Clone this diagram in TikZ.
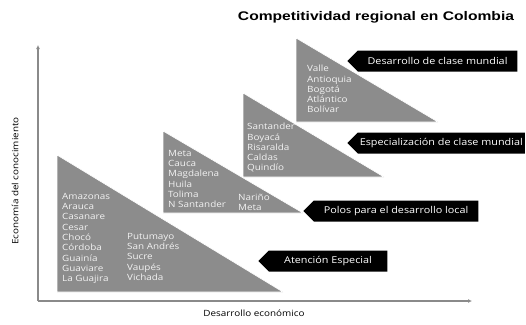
\documentclass[tikz,border=0pt]{standalone}
\usepackage{fontspec}
\setmainfont{Open Sans}[FakeStretch=1.15]
\newfontfamily\titlefont{Liberation Sans}[FakeStretch=1.25]
\usetikzlibrary{shapes.symbols,arrows.meta}
\definecolor{trigray}{HTML}{8C8C8C}
\definecolor{axisgray}{HTML}{8A8A8A}
\definecolor{regtext}{HTML}{F2F2F2}

\tikzset{
  tri/.style={fill=trigray, draw=white, line width=0.6pt},
  region/.style={text=regtext, align=left, anchor=north west, inner sep=0pt,
    font=\fontsize{8.6}{10.3}\selectfont},
  tag/.style={shape=signal, signal to=west, fill=black, text=white, anchor=west,
    minimum height=21pt, inner sep=2pt, font=\fontsize{9.4}{11}\selectfont},
  axis/.style={draw=axisgray, line width=1.5pt}
}

\begin{document}
\begin{tikzpicture}[x=1pt,y=-1pt]
    \useasboundingbox (0,0) rectangle (526,324);
    % title
    \node[font=\titlefont\bfseries\fontsize{12.5}{14}\selectfont] (title) at (376,17) {Competitividad regional en Colombia};
    % axes
    \coordinate (origin) at (38,301);
    \coordinate (ytop) at (38,45);
    \coordinate (xend) at (472,301);
    \draw[axis, -{Latex[length=4pt,width=4pt]}] (origin) -- (ytop);
    \draw[axis, -{Latex[length=4pt,width=4pt]}] (origin) -- (xend);
    \node[rotate=90, font=\fontsize{8.6}{10}\selectfont] (ylabel) at (15,181) {Economía del conocimiento};
    \node[font=\fontsize{8.6}{10}\selectfont] (xlabel) at (254,313) {Desarrollo económico};
    % triangles
    \fill[tri] (57,155) -- (57,292) -- (283,292) -- cycle;
    \fill[tri] (163,131) -- (163,213) -- (303,213) -- cycle;
    \fill[tri] (243,93) -- (243,177) -- (384,177) -- cycle;
    \fill[tri] (296,38) -- (296,122) -- (438,122) -- cycle;
    % regions
    \node[region] (atencionA) at (62,193) {Amazonas\\Arauca\\Casanare\\Cesar\\Chocó\\Córdoba\\Guainía\\Guaviare\\La Guajira};
    \node[region] (atencionB) at (127,233) {Putumayo\\San Andrés\\Sucre\\Vaupés\\Vichada};
    \node[region] (polosA) at (168,150) {Meta\\Cauca\\Magdalena\\Huila\\Tolima\\N Santander};
    \node[region] (polosB) at (238,194) {Nariño\\Meta};
    \node[region] (especial) at (247,123) {Santander\\Boyacá\\Risaralda\\Caldas\\Quindío};
    \node[region] (clase) at (307,65) {Valle\\Antioquia\\Bogotá\\Atlántico\\Bolívar};
    % tags
    \node[tag, minimum width=170pt] (desarrollo) at (347,61) {Desarrollo de clase mundial};
    \node[tag, minimum width=171pt] (especializacion) at (347,143) {Especialización de clase mundial};
    \node[tag, minimum width=175pt] (polos) at (303,211) {Polos para el desarrollo local};
    \node[tag, minimum width=129pt] (atencion) at (258,261) {Atención Especial};
\end{tikzpicture}
\end{document}
